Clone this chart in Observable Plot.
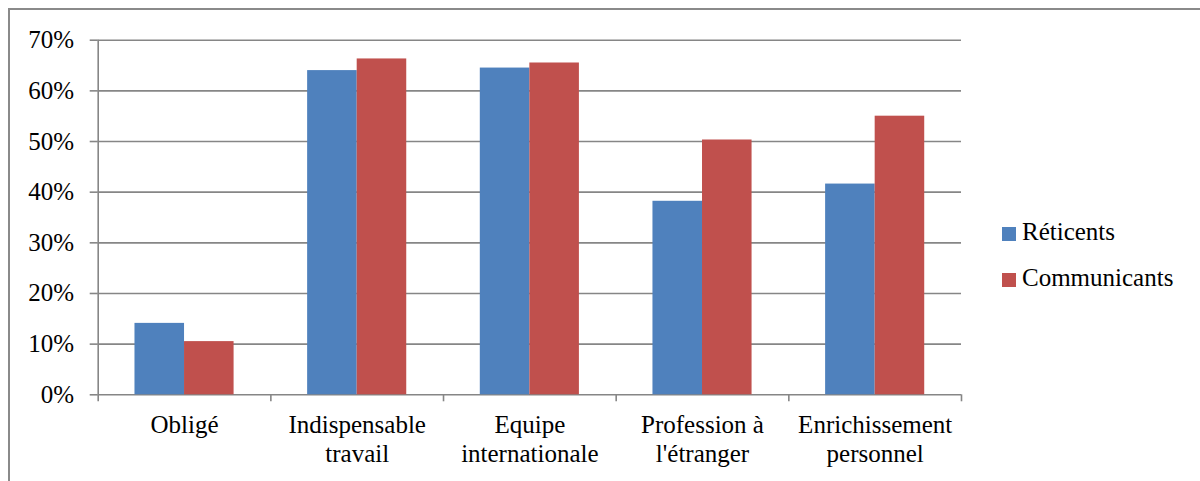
<!DOCTYPE html>
<html>
<head>
<meta charset="utf-8">
<script src="https://cdn.jsdelivr.net/npm/d3@7"></script>
<script src="https://cdn.jsdelivr.net/npm/@observablehq/plot@0.6"></script>
<style>
  html, body { margin: 0; padding: 0; background: #fff; }
  #wrap { position: relative; width: 1200px; height: 481px; overflow: hidden; font-family: "Times New Roman", Times, Tinos, "Liberation Serif", "Noto Serif", "DejaVu Serif", FreeSerif, serif; }
  #border { position: absolute; left: 8px; top: 8px; width: 1200px; height: 500px; border: 2px solid #8a8a8a; box-sizing: border-box; }
  #chart { position: absolute; left: 0; top: 0; }
  #legend { position: absolute; left: 1002px; top: 209px; font-size: 25px; color: #000; }
  .item { display: flex; align-items: center; height: 46px; }
  .sw { width: 14px; height: 14px; margin-right: 6px; margin-top: 4px; }
</style>
</head>
<body>
<div id="wrap">
  <div id="border"></div>
  <div id="chart"></div>
  <div id="legend"></div>
</div>
<script>
const categories = ["Obligé", "Indispensable\ntravail", "Equipe\ninternationale", "Profession à\nl'étranger", "Enrichissement\npersonnel"];
const series = ["Réticents", "Communicants"];
const reticents = [0.141, 0.640, 0.645, 0.382, 0.416];
const communicants = [0.105, 0.663, 0.655, 0.503, 0.550];
const colors = ["#4F81BD", "#C0504D"];
const yTicks = [0, 0.1, 0.2, 0.3, 0.4, 0.5, 0.6, 0.7];

const W = 1200, H = 481, mL = 97.7, mR = 239, mT = 39.7, mB = 86.7;
const bw = (W - mL - mR) / categories.length;
const grid = "#868686";
const FONT = '"Times New Roman", Times, Tinos, "Liberation Serif", "Noto Serif", "DejaVu Serif", FreeSerif, serif';

const rows = [];
categories.forEach((c, i) => {
  rows.push({cat: c, series: series[0], value: reticents[i]});
  rows.push({cat: c, series: series[1], value: communicants[i]});
});

const outer = 0.213 * bw, inner = 0.5 * bw;

const chart = Plot.plot({
  width: W, height: H,
  marginLeft: mL, marginRight: mR, marginTop: mT, marginBottom: mB,
  style: {fontFamily: FONT, fontSize: "25px", background: "transparent", color: "#000"},
  x: {type: "band", domain: categories, padding: 0, round: false},
  y: {domain: [0, 0.7]},
  color: {domain: series, range: colors},
  marks: [
    Plot.gridY(yTicks, {stroke: grid, strokeOpacity: 1, strokeWidth: 1.6}),
    Plot.axisY({ticks: yTicks, tickFormat: d3.format(".0%"), tickSize: 8, tickPadding: 16, stroke: grid, strokeWidth: 1.6, fill: "#000", label: null}),
    Plot.barY(rows.filter(d => d.series === series[0]), {x: "cat", y: "value", fill: "series", insetLeft: outer, insetRight: inner}),
    Plot.barY(rows.filter(d => d.series === series[1]), {x: "cat", y: "value", fill: "series", insetLeft: inner, insetRight: outer}),
    Plot.ruleX([categories[0]], {x: d => d, dx: -bw / 2, y1: 0, y2: 0.7, stroke: grid, strokeWidth: 1.6}),
    Plot.axisX({ticks: categories, tickSize: 7, dx: -bw / 2, tickFormat: () => "", stroke: grid, strokeWidth: 1.6, label: null}),
    Plot.axisX({ticks: [categories[categories.length - 1]], tickSize: 7, dx: bw / 2, tickFormat: () => "", stroke: grid, strokeWidth: 1.6, label: null}),
    Plot.axisX({ticks: categories, tickSize: 0, tickPadding: 18, lineHeight: 1.15, fill: "#000", label: null})
  ]
});
document.getElementById("chart").appendChild(chart);

const legend = document.getElementById("legend");
series.forEach((s, i) => {
  const item = document.createElement("div");
  item.className = "item";
  const sw = document.createElement("div");
  sw.className = "sw";
  sw.style.background = colors[i];
  const t = document.createElement("span");
  t.textContent = s;
  item.appendChild(sw);
  item.appendChild(t);
  legend.appendChild(item);
});
</script>
</body>
</html>
